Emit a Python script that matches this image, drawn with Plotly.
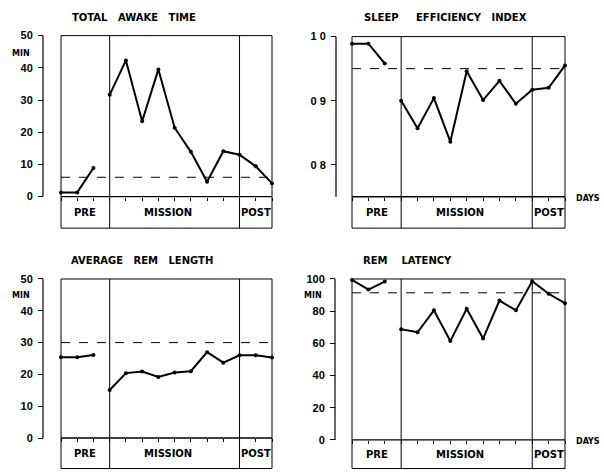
import plotly.graph_objects as go

# day index along x (0..13): pre 0-2, mission 3-11, post 11-13
pre_days = [0, 1, 2]
rest_days = [3, 4, 5, 6, 7, 8, 9, 10, 11, 12, 13]
all_days = list(range(14))

awake_pre = [1.3, 1.3, 8.9]
awake_rest = [31.6, 42.3, 23.4, 39.5, 21.4, 13.9, 4.6, 14.1, 13.0, 9.4, 4.1]
awake_ref = 6.0

eff_pre = [0.989, 0.989, 0.958]
eff_rest = [0.900, 0.857, 0.904, 0.836, 0.946, 0.901, 0.931, 0.895, 0.917, 0.920, 0.955]
eff_ref = 0.95

remlen_pre = [25.4, 25.4, 26.1]
remlen_rest = [15.1, 20.4, 20.9, 19.2, 20.6, 21.0, 27.0, 23.7, 26.0, 26.0, 25.3]
remlen_ref = 30.0

lat_pre = [99.4, 93.4, 98.4]
lat_rest = [68.8, 66.9, 80.5, 61.4, 81.5, 63.0, 86.6, 80.5, 98.6, 90.8, 85.0]
lat_ref = 91.4

min_ticks = [0, 10, 20, 30, 40, 50]
eff_ticks = [0.8, 0.9, 1.0]
eff_ticktext = ["0 8", "0 9", "1 0"]
lat_ticks = [0, 20, 40, 60, 80, 100]

phases = [("PRE", 1.5), ("MISSION", 6.6), ("POST", 12)]
boundaries = [3, 11]

W, H = 604, 472
FONT = dict(family="DejaVu Sans", size=10, color="black", weight="bold")
TFONT = dict(family="DejaVu Sans", size=10, color="black", weight="bold")
SMALL = dict(family="DejaVu Sans", size=8, color="black", weight="bold")
NB = "\u00a0"

def px(x):
    return x / W

fig = go.Figure()
layout = dict(width=W, height=H, margin=dict(l=0, r=0, t=0, b=0),
              plot_bgcolor="white", paper_bgcolor="white", showlegend=False,
              font=FONT, shapes=[], annotations=[])

panels = [
    # title, pre, rest, ref, ticks, ticktext, yrange, base, top, box(l,r,t,b), axis x, zero y,
    # title pos, MIN, DAYS, row shift
    ("TOTAL" + NB*3 + "AWAKE" + NB*3 + "TIME", awake_pre, awake_rest, awake_ref, min_ticks, None,
     [-9.8, 50], 0, 50, (61, 272, 34, 229), 43, 197, (70, 16), (21, 52), False, 4),
    ("SLEEP" + NB*5 + "EFFICIENCY" + NB*3 + "INDEX", eff_pre, eff_rest, eff_ref, eff_ticks, eff_ticktext,
     [0.701, 1.0], 0.75, 1.0, (352, 565, 35, 229), 336, 197, (362, 16), None, True, 4),
    ("AVERAGE" + NB*3 + "REM" + NB*3 + "LENGTH", remlen_pre, remlen_rest, remlen_ref, min_ticks, None,
     [-9.6, 50], 0, 50, (61, 272, 278, 470), 43, 439, (69, 259), (21, 295), False, 1.5),
    ("REM" + NB*4 + "LATENCY", lat_pre, lat_rest, lat_ref, lat_ticks, None,
     [-17.8, 100], 0, 100, (352, 565, 278, 470), 335, 441, (361, 259), (313, 295), True, 1.5),
]

for i, (title, pre, rest, ref, ticks, ticktext, yr, base, top, box, ax_x, zero_y,
        tpos, minpos, days, dy) in enumerate(panels, start=1):
    s = "" if i == 1 else str(i)
    xa, ya = "x" + s, "y" + s
    l, r, t, b = box

    def py(y):
        return 1 - (y - dy) / H

    layout["xaxis" + s] = dict(domain=[px(l), px(r)], range=[0, 13], anchor="free",
                               position=py(zero_y), ticks="outside", ticklen=3,
                               tickcolor="black", tickvals=all_days, showticklabels=False,
                               showgrid=False, zeroline=False, showline=False)
    yax = dict(domain=[py(b), py(t)], range=yr, anchor="free", position=px(ax_x),
               ticks="outside", ticklen=5, tickcolor="black", tickvals=ticks,
               ticklabelstandoff=3, showgrid=False, zeroline=False, showline=False,
               tickfont=dict(family="Liberation Sans", size=11, color="black", weight="bold"))
    if ticktext:
        yax["ticktext"] = ticktext
    layout["yaxis" + s] = yax

    for xs, ys in [(pre_days, pre), (rest_days, rest)]:
        fig.add_trace(go.Scatter(x=xs, y=ys, xaxis=xa, yaxis=ya, mode="lines+markers",
                                 line=dict(color="black", width=2),
                                 marker=dict(color="black", size=4), cliponaxis=False))

    sh = layout["shapes"]
    sh.append(dict(type="rect", xref=xa + " domain", yref=ya + " domain",
                   x0=0, x1=1, y0=0, y1=1, line=dict(color="black", width=1)))
    for bx in boundaries:
        sh.append(dict(type="line", xref=xa, yref=ya + " domain", x0=bx, x1=bx, y0=0, y1=1,
                       line=dict(color="black", width=1)))
    sh.append(dict(type="line", xref=xa + " domain", yref=ya, x0=0, x1=1, y0=base, y1=base,
                   line=dict(color="black", width=1.3)))
    sh.append(dict(type="line", xref=xa + " domain", yref=ya, x0=0, x1=1, y0=ref, y1=ref,
                   line=dict(color="black", width=1, dash="dash")))
    sh.append(dict(type="line", xref="paper", yref=ya, x0=px(ax_x), x1=px(ax_x), y0=base, y1=top,
                   line=dict(color="black", width=1.2)))

    an = layout["annotations"]
    an.append(dict(text=title, xref="paper", yref="paper", x=px(tpos[0]), y=py(tpos[1]),
                   xanchor="left", yanchor="middle", showarrow=False, font=TFONT))
    for name, cx in phases:
        an.append(dict(text=name, xref=xa, yref="paper", x=cx, y=py((zero_y + b) / 2),
                       xanchor="center", yanchor="middle", showarrow=False, font=FONT))
    if minpos:
        an.append(dict(text="MIN", xref="paper", yref="paper", x=px(minpos[0]), y=py(minpos[1]),
                       xanchor="center", yanchor="middle", showarrow=False, font=SMALL))
    if days:
        an.append(dict(text="DAYS", xref="paper", yref="paper", x=px(602), y=py(zero_y + 2),
                       xanchor="right", yanchor="middle", showarrow=False, font=SMALL))

fig.update_layout(**layout)
fig.write_html("out.html", config={"displayModeBar": False},
               post_script="document.body.style.margin='0';")
